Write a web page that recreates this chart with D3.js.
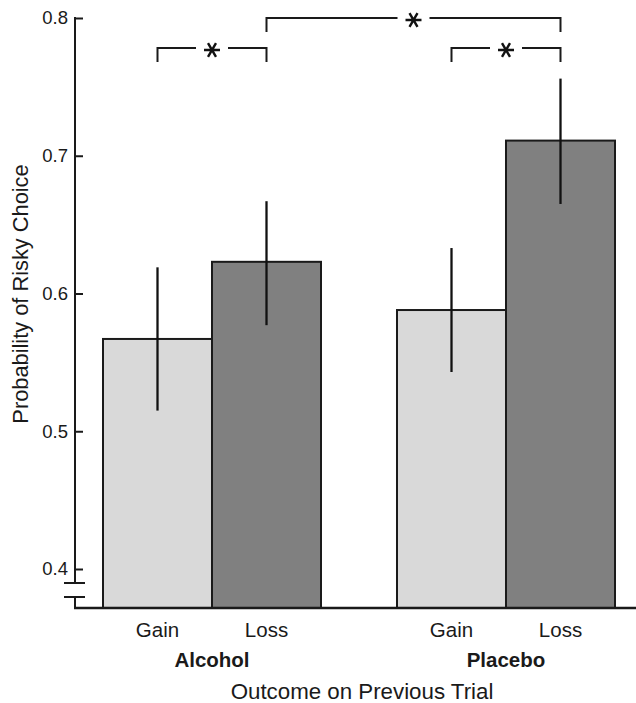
<!DOCTYPE html>
<html><head><meta charset="utf-8">
<script src="https://cdn.jsdelivr.net/npm/d3@7"></script>
<style>body{margin:0;background:#fff}svg{display:block}text{font-family:"Liberation Sans",Arial,sans-serif;fill:#1a1a1a}</style>
</head><body><svg id="c" width="636" height="703"></svg>
<script>
const groups = ["Alcohol", "Placebo"];
const outcomes = ["Gain", "Loss"];
const means = {Alcohol: [0.567, 0.623], Placebo: [0.588, 0.711]};
const errLow = {Alcohol: [0.515, 0.577], Placebo: [0.543, 0.665]};
const errHigh = {Alcohol: [0.619, 0.667], Placebo: [0.633, 0.756]};
const yTicks = [0.4, 0.5, 0.6, 0.7, 0.8];
const yFloor = 0.3717;
// significance comparisons: [groupA, outcomeA, groupB, outcomeB, level]
const sigPairs = [["Alcohol","Gain","Alcohol","Loss",0],["Placebo","Gain","Placebo","Loss",0],["Alcohol","Loss","Placebo","Loss",1]];

const svg = d3.select("#c");
const axisX = 75, plotR = 636;
const y = d3.scaleLinear().domain([0.4, 0.8]).range([569, 18]);
const x0 = d3.scaleBand().domain(groups).range([103, 615]).paddingInner(0.2585).paddingOuter(0);
const x1 = d3.scaleBand().domain(outcomes).range([0, x0.bandwidth()]).padding(0);
const fills = {Gain: "#d9d9d9", Loss: "#808080"};
const stroke = "#1a1a1a";
const base = y(yFloor);

const data = [];
groups.forEach(g => outcomes.forEach((o, i) => data.push({g, o, v: means[g][i], lo: errLow[g][i], hi: errHigh[g][i]})));

// bars
svg.append("g").selectAll("rect").data(data).join("rect")
  .attr("x", d => x0(d.g) + x1(d.o))
  .attr("y", d => y(d.v))
  .attr("width", x1.bandwidth())
  .attr("height", d => base - y(d.v))
  .attr("fill", d => fills[d.o]).attr("stroke", stroke).attr("stroke-width", 2);

// error bars
svg.append("g").selectAll("line").data(data).join("line")
  .attr("x1", d => x0(d.g) + x1(d.o) + x1.bandwidth()/2)
  .attr("x2", d => x0(d.g) + x1(d.o) + x1.bandwidth()/2)
  .attr("y1", d => y(d.lo)).attr("y2", d => y(d.hi))
  .attr("stroke", "#111").attr("stroke-width", 2.3);

// y axis
const ax = svg.append("g").attr("transform", `translate(${axisX},0)`)
  .call(d3.axisLeft(y).tickValues(yTicks).tickFormat(d3.format(".1f")).tickSizeInner(-8).tickSizeOuter(0).tickPadding(7));
ax.select(".domain").remove();
ax.selectAll(".tick line").attr("stroke", stroke).attr("stroke-width", 2);
ax.selectAll(".tick text").attr("font-size", 18.5).style("font-family", '"Liberation Sans",Arial,sans-serif').attr("fill", "#1a1a1a");

const brkTop = 583, brkBot = 597;
const ln = (a,b,c,d,w) => svg.append("line").attr("x1",a).attr("y1",b).attr("x2",c).attr("y2",d).attr("stroke",stroke).attr("stroke-width",w||2);
ln(axisX, y(0.8) - 1, axisX, brkTop);
ln(axisX, brkBot, axisX, base + 1);
ln(64, brkTop, 85, brkTop);
ln(64, brkBot, 85, brkBot);
// x baseline
ln(axisX - 1, base, plotR, base, 2.5);

// category labels
svg.append("g").selectAll("text").data(data).join("text")
  .attr("x", d => x0(d.g) + x1(d.o) + x1.bandwidth()/2).attr("y", 637)
  .attr("text-anchor", "middle").attr("font-size", 20.5).text(d => d.o);
svg.append("g").selectAll("text").data(groups).join("text")
  .attr("x", g => x0(g) + x0.bandwidth()/2).attr("y", 667)
  .attr("text-anchor", "middle").attr("font-size", 20.5).attr("font-weight", "bold").text(g => g);
svg.append("text").attr("x", 362).attr("y", 698.5).attr("text-anchor", "middle").attr("font-size", 22.3).text("Outcome on Previous Trial");
svg.append("text").attr("transform", "translate(28,294) rotate(-90)").attr("text-anchor", "middle").attr("font-size", 21.8).text("Probability of Risky Choice");

// significance brackets
const cx = (g,o) => x0(g) + x1(o) + x1.bandwidth()/2;
const lvlY = [48, 18];
const star = d3.symbol().type(d3.symbolAsterisk).size(180);
sigPairs.forEach(([ga,oa,gb,ob,l]) => {
  const xa = cx(ga,oa), xb = cx(gb,ob), yy = lvlY[l], mid = (xa+xb)/2;
  const gap = 16;
  svg.append("path").attr("fill","none").attr("stroke",stroke).attr("stroke-width",2)
    .attr("d", `M${xa},${yy+14}V${yy}H${mid-gap} M${mid+gap},${yy}H${xb}V${yy+14}`);
  svg.append("path").attr("d", star()).attr("transform", `translate(${mid},${yy+2}) rotate(90)`)
    .attr("fill","none").attr("stroke","#111").attr("stroke-width",2.4);
});
</script></body></html>
